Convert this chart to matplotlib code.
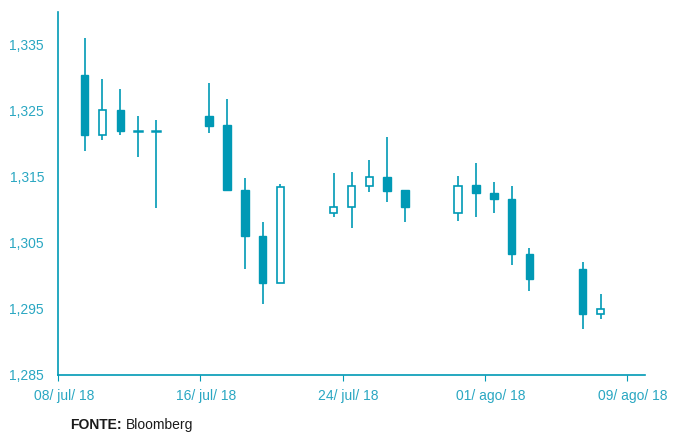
import matplotlib
matplotlib.use("Agg")
import matplotlib.pyplot as plt
from matplotlib.patches import Rectangle
import matplotlib.transforms as mtransforms
import numpy as np

# Trading days as day offset from 08/jul/18
days = [1, 2, 3, 4, 5,
        8, 9, 10, 11, 12,
        15, 16, 17, 18, 19,
        22, 23, 24, 25, 26,
        29, 30]
opens = [1.3304, 1.3213, 1.3252, 1.3220, 1.3220,
         1.3243, 1.3229, 1.3131, 1.3060, 1.2989,
         1.3095, 1.3105, 1.3136, 1.3150, 1.3130,
         1.3095, 1.3138, 1.3126, 1.3117, 1.3034,
         1.3011, 1.2943]
highs = [1.3361, 1.3299, 1.3283, 1.3243, 1.3237,
         1.3292, 1.3268, 1.3149, 1.3082, 1.3139,
         1.3156, 1.3157, 1.3176, 1.3211, 1.3130,
         1.3151, 1.3171, 1.3143, 1.3137, 1.3042,
         1.3021, 1.2973]
lows = [1.3189, 1.3206, 1.3213, 1.3180, 1.3103,
        1.3216, 1.3131, 1.3010, 1.2957, 1.2989,
        1.3090, 1.3072, 1.3127, 1.3112, 1.3082,
        1.3083, 1.3089, 1.3095, 1.3016, 1.2977,
        1.2920, 1.2935]
closes = [1.3213, 1.3252, 1.3219, 1.3220, 1.3220,
          1.3228, 1.3131, 1.3060, 1.2989, 1.3135,
          1.3105, 1.3137, 1.3150, 1.3129, 1.3104,
          1.3137, 1.3126, 1.3116, 1.3033, 1.2995,
          1.2942, 1.2950]

xtick_pos = [0, 8, 16, 24, 32]
xtick_labels = ["08/ jul/ 18", "16/ jul/ 18", "24/ jul/ 18", "01/ ago/ 18", "09/ ago/ 18"]
ytick_pos = [1.285, 1.295, 1.305, 1.315, 1.325, 1.335]
ytick_labels = ["1,285", "1,295", "1,305", "1,315", "1,325", "1,335"]

teal = "#0099B5"
label_c = "#2AA7C2"

plt.rcParams['font.family'] = ['Liberation Sans', 'DejaVu Sans']

fig = plt.figure(figsize=(6.74, 4.32), dpi=100)
ax = fig.add_axes([58/674, 57/432, (645-58)/674, (375-12)/432])

w = 0.42
for d, o, h, l, c in zip(days, opens, highs, lows, closes):
    x = d + 0.5
    top = max(o, c)
    bot = min(o, c)
    ax.plot([x, x], [top, h], color=teal, lw=1.2, solid_capstyle='butt', zorder=2)
    ax.plot([x, x], [l, bot], color=teal, lw=1.2, solid_capstyle='butt', zorder=2)
    hgt = max(top - bot, 0.00008)
    if c < o:
        ax.add_patch(Rectangle((x - w/2, bot), w, hgt, facecolor=teal, edgecolor=teal, lw=1.0, zorder=3))
    elif c > o:
        ax.add_patch(Rectangle((x - w/2, bot), w, hgt, facecolor="white", edgecolor=teal, lw=1.2, zorder=3))
    else:
        ax.plot([x - w/2, x + w/2], [o, o], color=teal, lw=1.8, zorder=3)

ax.set_xlim(0, 33)
ax.set_ylim(1.285, 1.340)
for s in ['top', 'right']:
    ax.spines[s].set_visible(False)
for s in ['left', 'bottom']:
    ax.spines[s].set_color(teal)
    ax.spines[s].set_linewidth(1.2)

ax.set_xticks(xtick_pos)
ax.set_xticklabels(xtick_labels, color=label_c, fontsize=10)
ax.set_yticks(ytick_pos)
ax.set_yticklabels(ytick_labels, color=label_c, fontsize=10)
ax.tick_params(axis='x', length=4, color=teal, pad=6)
ax.tick_params(axis='y', length=0, pad=10)

offset = mtransforms.ScaledTranslation(6/100, 0, fig.dpi_scale_trans)
for lbl in ax.get_xticklabels():
    lbl.set_transform(lbl.get_transform() + offset)

t1 = fig.text(70/674, 1 - 425/432, "FONTE:", fontsize=10, fontweight='bold', color="#1a1a1a", va='center', ha='left')
fig.canvas.draw()
bb = t1.get_window_extent(renderer=fig.canvas.get_renderer())
fig.text((bb.x1 + 4)/674, 1 - 425/432, "Bloomberg", fontsize=10, color="#1a1a1a", va='center', ha='left')

fig.savefig("out.png", dpi=100)
